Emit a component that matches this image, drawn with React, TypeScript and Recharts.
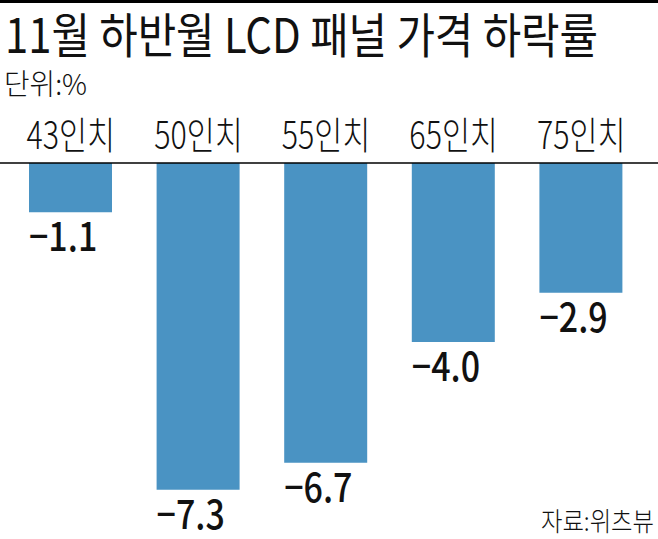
import React, { useEffect } from 'react'
import { BarChart, Bar, XAxis, YAxis, LabelList } from 'recharts'

const categories = ['43인치', '50인치', '55인치', '65인치', '75인치']
const values = [-1.1, -7.3, -6.7, -4.0, -2.9]

const title = '11월 하반월 LCD 패널 가격 하락률'
const unitText = '단위:%'
const sourceText = '자료:위츠뷰'

const BAR_COLOR = '#4a93c3'
const FONT = '"Noto Sans CJK KR", "Noto Sans", sans-serif'

const data = categories.map((name, i) => ({ name, value: values[i] }))

const fmt = (v: number) => (v < 0 ? '\u2212' : '') + Math.abs(v).toFixed(1)

const CategoryTick = (props: any) => {
  const { x, y, payload } = props
  return (
    <text
      transform={`translate(${x},${y - 14}) scale(0.8,1)`}
      textAnchor="middle"
      fontFamily={FONT}
      fontSize={38}
      fontWeight={300}
      fill="#111"
    >
      {payload.value}
    </text>
  )
}

const ValueLabel = (props: any) => {
  const { x, y, width, height, value } = props
  const left = Math.min(x, x + width)
  const bottom = Math.max(y, y + height)
  return (
    <text
      transform={`translate(${left},${bottom + 39}) scale(0.85,1)`}
      fontFamily={FONT}
      fontSize={40}
      fontWeight={500}
      fill="#111"
    >
      {fmt(Number(value))}
    </text>
  )
}

export default function App() {
  useEffect(() => {
    document.body.style.margin = '0'
  }, [])

  return (
    <div style={{ position: 'absolute', left: 0, top: 0, width: 658, height: 539, background: '#fff' }}>
      <BarChart
        width={658}
        height={539}
        data={data}
        margin={{ top: 123, right: 0, bottom: 18, left: 0 }}
      >
        <XAxis
          dataKey="name"
          orientation="top"
          height={40}
          padding={{ left: 7, right: 13 }}
          axisLine={{ stroke: '#000', strokeWidth: 1.5 }}
          tickLine={false}
          tickSize={0}
          tickMargin={0}
          tick={<CategoryTick />}
          interval={0}
        />
        <YAxis hide domain={[-8, 0]} allowDataOverflow />
        <Bar dataKey="value" fill={BAR_COLOR} barSize={83} isAnimationActive={false}>
          <LabelList dataKey="value" content={<ValueLabel />} />
        </Bar>
      </BarChart>
      <svg
        width={658}
        height={539}
        style={{ position: 'absolute', left: 0, top: 0, pointerEvents: 'none' }}
      >
        <rect x={0} y={0} width={658} height={3} fill="#000" />
        <text
          x={5}
          y={53}
          fontFamily={FONT}
          fontSize={48}
          fontWeight={400}
          fill="#111"
          textLength={593}
          lengthAdjust="spacingAndGlyphs"
        >
          {title}
        </text>
        <text
          x={4}
          y={95}
          fontFamily={FONT}
          fontSize={29}
          fontWeight={300}
          fill="#111"
          textLength={83}
          lengthAdjust="spacingAndGlyphs"
        >
          {unitText}
        </text>
        <text
          x={541}
          y={531}
          fontFamily={FONT}
          fontSize={26}
          fontWeight={300}
          fill="#111"
          textLength={113}
          lengthAdjust="spacingAndGlyphs"
        >
          {sourceText}
        </text>
      </svg>
    </div>
  )
}
